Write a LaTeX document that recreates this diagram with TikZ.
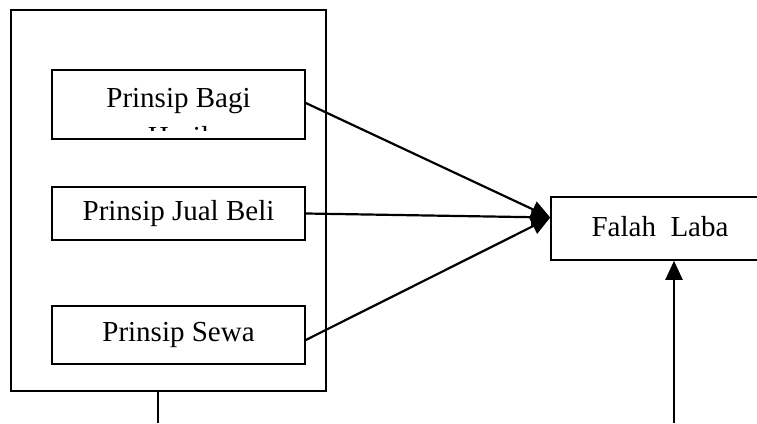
\documentclass[tikz,border=0pt]{standalone}
\usepackage{fontspec}
\setmainfont{Liberation Serif}
\usetikzlibrary{arrows.meta,calc}
\tikzset{
  box/.style={draw, line width=1.6pt, rectangle, inner sep=0pt},
  lbl/.style={font=\fontsize{29}{35}\selectfont},
  link/.style={line width=2.2pt, -{Triangle[length=19pt,width=17pt]}},
  plain/.style={line width=2.2pt}
}
\begin{document}
\begin{tikzpicture}[x=1pt,y=1pt]
  \useasboundingbox (0,0) rectangle (757,423);
  \clip (0,0) rectangle (757,423);
  % outer frame holding the three principles
  \node[box, minimum width=315, minimum height=381] (frame) at (168.5,222.5) {};
  % principle boxes
  \node[box, minimum width=253, minimum height=69] (bagi) at (178.5,318.5) {};
  \begin{scope}
    \clip (52,292) rectangle (305,353);
    \node[lbl, anchor=base] at (178.5,315) {Prinsip Bagi};
    \node[lbl, anchor=base] at (178.5,276) {Hasil};
  \end{scope}
  \node[box, lbl, minimum width=253, minimum height=53] (jual) at (178.5,209.5) {Prinsip Jual Beli};
  \node[box, lbl, minimum width=253, minimum height=58] (sewa) at (178.5,88) {Prinsip Sewa};
  % outcome box, running past the right edge
  \node[box, minimum width=219, minimum height=63] (falah) at (660.5,194.5) {};
  \node[lbl] at (660,196) {Falah\ \ Laba};
  \coordinate (hub) at ($(falah.west)+(0,11)$);
  \coordinate (low1) at (158,0);
  \coordinate (low2) at (674,0);
  % connectors
  \draw[link] ($(bagi.east)+(0,1.5)$) -- (hub);
  \draw[link] (jual.east) -- (hub);
  \draw[link] ($(sewa.east)+(0,-5)$) -- (hub);
  \draw[plain] (frame.south -| low1) -- (low1);
  \draw[link] (low2) -- (falah.south -| low2);
\end{tikzpicture}
\end{document}
